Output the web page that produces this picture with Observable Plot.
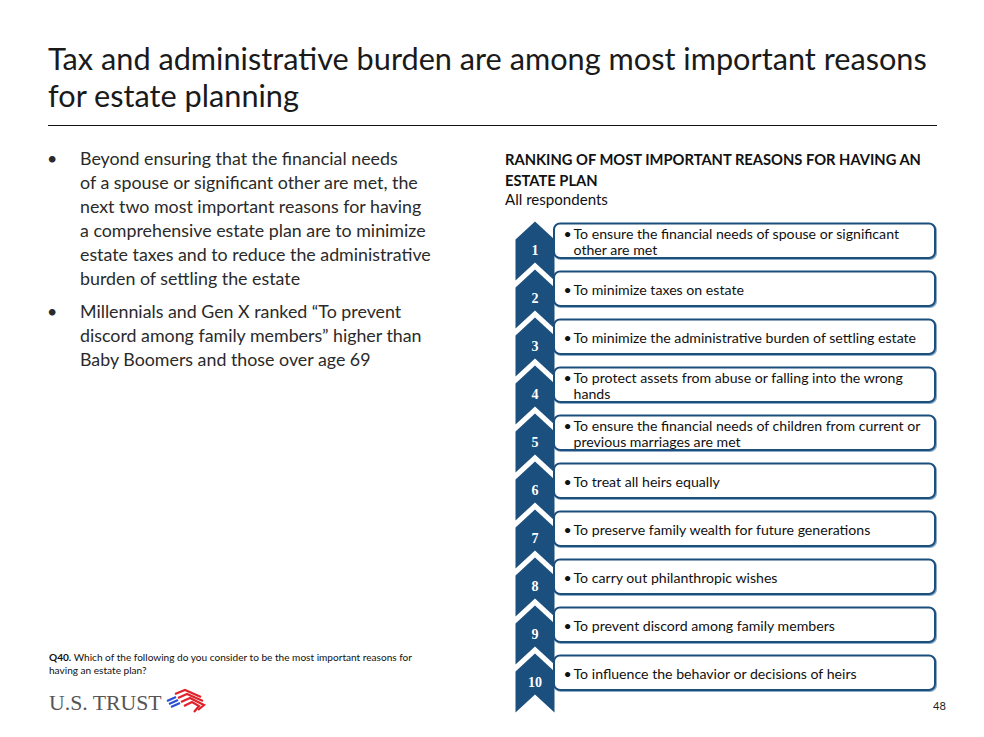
<!DOCTYPE html>
<html><head><meta charset="utf-8">
<script src="https://cdn.jsdelivr.net/npm/d3@7"></script>
<script src="https://cdn.jsdelivr.net/npm/@observablehq/plot@0.6"></script>
<style>
html,body{margin:0;padding:0;background:#fff}
body{width:984px;height:737px;position:relative;overflow:hidden;font-family:Lato,"Open Sans",sans-serif;color:#222}
.abs{position:absolute;white-space:nowrap}
</style></head><body>
<div id="t1" class="abs" style="left:48px;color:#1a1a1a">Tax and administrative burden are among most important reasons</div>
<div id="t2" class="abs" style="left:48px;color:#1a1a1a">for estate planning</div>
<div class="abs" style="left:48px;top:125px;width:889px;height:1px;background:#111"></div>
<div id="bullets"></div>
<div id="h1" class="abs" style="left:505px;font-weight:bold;color:#111">RANKING OF MOST IMPORTANT REASONS FOR HAVING AN</div>
<div id="h2" class="abs" style="left:505px;font-weight:bold;color:#111">ESTATE PLAN</div>
<div id="h3" class="abs" style="left:505px;color:#111">All respondents</div>
<div id="chart" class="abs" style="left:500px;top:215px"></div>
<div id="f1" class="abs" style="left:49px;color:#111"><b>Q40.</b> Which of the following do you consider to be the most important reasons for</div>
<div id="f2" class="abs" style="left:49px;color:#111">having an estate plan?</div>
<div id="logo" class="abs" style="left:49px;font-family:'Liberation Serif',serif;color:#555">U.S. TRUST</div>
<svg class="abs" style="left:165px;top:688px" width="44" height="28" viewBox="0 0 44 28">
  <g stroke="#2a4fd6" stroke-width="2.2" fill="none">
    <path d="M2 13 L11 9"/><path d="M4 16 L13 12"/><path d="M6 19 L15 15"/>
  </g>
  <g stroke="#e0232b" stroke-width="2.2" fill="none">
    <path d="M10 6 L20 2 L36 9"/><path d="M13 10 L22 6 L38 13"/><path d="M16 14 L25 10 L39 17 L33 22"/><path d="M19 18 L27 14 L34 18 L29 24"/>
  </g>
</svg>
<div id="pg" class="abs" style="left:933px;color:#222">48</div>
<script>
// ---- data ----
const ranks = [1, 2, 3, 4, 5, 6, 7, 8, 9, 10];
const rankLabels = ["1", "2", "3", "4", "5", "6", "7", "8", "9", "10"];
const reasons = [
  "To ensure the financial needs of spouse or significant\nother are met",
  "To minimize taxes on estate",
  "To minimize the administrative burden of settling estate",
  "To protect assets from abuse or falling into the wrong\nhands",
  "To ensure the financial needs of children from current or\nprevious marriages are met",
  "To treat all heirs equally",
  "To preserve family wealth for future generations",
  "To carry out philanthropic wishes",
  "To prevent discord among family members",
  "To influence the behavior or decisions of heirs"
];
const bullet1 = ["Beyond ensuring that the financial needs", "of a spouse or significant other are met, the", "next two most important reasons for having", "a comprehensive estate plan are to minimize", "estate taxes and to reduce the administrative", "burden of settling the estate"];
const bullet2 = ["Millennials and Gen X ranked \u201cTo prevent", "discord among family members\u201d higher than", "Baby Boomers and those over age 69"];

// ---- helpers ----
const cv = document.createElement("canvas").getContext("2d");
function fit(text, weight, family, target) {
  cv.font = `${weight} 100px ${family}`;
  return 100 * target / cv.measureText(text).width;
}
function place(el, baseline, L, fs, k = 0.387) {
  el.style.fontSize = fs + "px";
  el.style.lineHeight = L + "px";
  el.style.top = (baseline - L / 2 - k * fs) + "px";
}
const $ = id => document.getElementById(id);

const tfs = fit("Tax and administrative burden are among most important reasons", "400", "Lato", 879);
place($("t1"), 70, 37, tfs);
place($("t2"), 107, 37, tfs);

const bfs = fit("estate taxes and to reduce the administrative", "400", "Lato", 351);
const bwrap = $("bullets");
function addLine(text, left, baseline) {
  const d = document.createElement("div");
  d.className = "abs"; d.textContent = text;
  d.style.left = left + "px"; d.style.color = "#2a2a2a";
  place(d, baseline, 24, bfs);
  bwrap.appendChild(d);
}
addLine("\u2022", 47, 165);
bullet1.forEach((t, i) => addLine(t, 80, 165 + 24 * i));
addLine("\u2022", 47, 318);
bullet2.forEach((t, i) => addLine(t, 80, 318 + 24 * i));

const hfs = fit("RANKING OF MOST IMPORTANT REASONS FOR HAVING AN", "bold", "Lato", 418);
place($("h1"), 165, 21, hfs);
place($("h2"), 186, 21, hfs);
place($("h3"), 205, 20, fit("All respondents", "400", "Lato", 103));

const ffs = fit("Q40. Which of the following do you consider to be the most important reasons for", "400", "Lato", 364);
place($("f1"), 661.5, 13, ffs);
place($("f2"), 674.3, 13, ffs);
place($("logo"), 710.7, 26, fit("U.S. TRUST", "400", "'Liberation Serif'", 113), 0.3375);
place($("pg"), 710.5, 14, 11);

// ---- chart ----
const data = ranks.map((r, i) => ({rank: r, label: rankLabels[i], reason: reasons[i]}));
const lfs = fit("To minimize the administrative burden of settling estate", "400", "Lato", 343);
const blue = "#1b4f7e";
const chevron = {
  draw(ctx) {
    ctx.moveTo(0, -20); ctx.lineTo(19.5, -2); ctx.lineTo(19.5, 39);
    ctx.lineTo(0, 21); ctx.lineTo(-19.5, 39); ctx.lineTo(-19.5, -2); ctx.closePath();
  }
};
const chart = Plot.plot({
  width: 445, height: 505,
  marginLeft: 54, marginRight: 10, marginTop: 2, marginBottom: 23,
  x: {domain: [0, 1], axis: null},
  y: {domain: [0.5, 10.5], range: [2, 482], axis: null},
  style: {fontFamily: "Lato", background: "transparent", overflow: "visible"},
  marks: [
    Plot.dot(data, {x: 0, y: "rank", symbol: chevron, fill: blue, dx: -19.5}),
    Plot.text(data, {x: 0, y: "rank", text: "label", dx: -19.5, dy: 9, fill: "white",
      fontWeight: "bold", fontSize: 14, fontFamily: "Liberation Serif", textAnchor: "middle"}),
    Plot.rect(data, {x1: 0, x2: 1, y1: d => d.rank - 17.5 / 48, y2: d => d.rank + 17 / 48,
      rx: 6, fill: "none", stroke: "#8ea9c6", strokeWidth: 2, dx: 1, dy: 1}),
    Plot.rect(data, {x1: 0, x2: 1, y1: d => d.rank - 17.5 / 48, y2: d => d.rank + 17 / 48,
      rx: 6, fill: "white", stroke: blue, strokeWidth: 2}),
    Plot.text(data, {x: 0, y: "rank",
      text: d => ["\u2022", ...d.reason.split("\n").slice(1).map(() => "\u00a0")].join("\n"),
      dx: 9, textAnchor: "start", fontSize: lfs, lineHeight: 16 / lfs, fill: "#111"}),
    Plot.text(data, {x: 0, y: "rank", text: "reason", dx: 19, textAnchor: "start",
      fontSize: lfs, lineHeight: 16 / lfs, fill: "#111"})
  ]
});
$("chart").appendChild(chart);
</script>
</body></html>
